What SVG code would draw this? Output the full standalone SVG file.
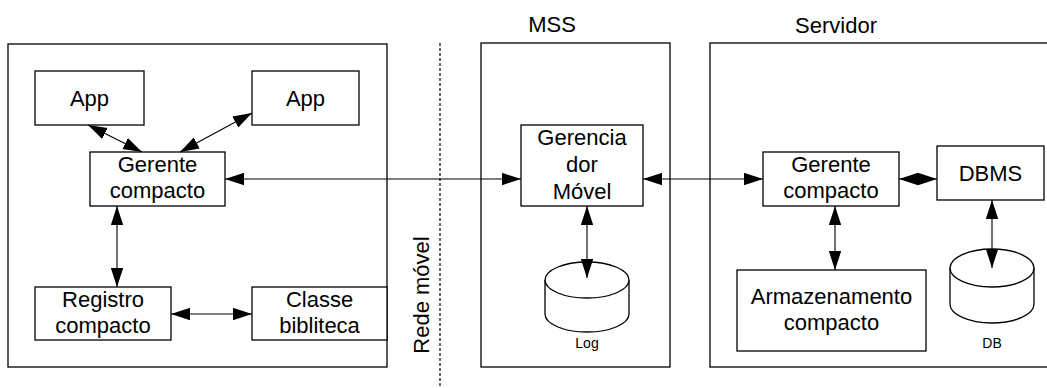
<svg xmlns="http://www.w3.org/2000/svg" width="1047" height="388" viewBox="0 0 1047 388">
  <defs>
    <style>
      .box { fill: #fff; stroke: #000; stroke-width: 1.3; }
      .frame { fill: none; stroke: #000; stroke-width: 1.3; }
      .txt { font-family: "Liberation Sans", Arial, sans-serif; font-size: 22px; fill: #000; text-anchor: middle; }
      .small { font-family: "Liberation Sans", Arial, sans-serif; font-size: 14px; fill: #000; text-anchor: middle; }
      .link { fill: none; stroke: #000; stroke-width: 1.1; marker-start: url(#head); marker-end: url(#head); }
    </style>
    <marker id="head" markerUnits="userSpaceOnUse" markerWidth="19" markerHeight="13" refX="19" refY="6.5" orient="auto-start-reverse" viewBox="0 0 19 13">
      <path d="M0,0.3 L19,6.5 L0,12.7 Z" fill="#000"/>
    </marker>
  </defs>
  <rect width="1047" height="388" fill="#fff"/>

  <!-- mobile client frame -->
  <g id="client">
    <rect class="frame" x="8" y="44" width="379" height="323"/>
  </g>

  <!-- network boundary -->
  <g id="network">
    <line x1="440" y1="43" x2="440" y2="388" stroke="#000" stroke-width="1.2" stroke-dasharray="3,2"/>
    <text class="txt" transform="translate(429,295) rotate(-90)">Rede móvel</text>
  </g>

  <!-- MSS frame -->
  <g id="mss">
    <rect class="frame" x="481" y="43" width="189" height="324"/>
    <text class="txt" x="552" y="32">MSS</text>
  </g>

  <!-- server frame -->
  <g id="servidor">
    <rect class="frame" x="710" y="43" width="350" height="324"/>
    <text class="txt" x="836" y="33">Servidor</text>
  </g>

  <g id="app1">
    <rect class="box" x="35" y="71" width="109" height="54"/>
    <text class="txt" x="89.5" y="106">App</text>
  </g>
  <g id="app2">
    <rect class="box" x="252" y="71" width="107" height="54"/>
    <text class="txt" x="305.5" y="106">App</text>
  </g>
  <g id="gerente-cliente">
    <rect class="box" x="90" y="152" width="135" height="54"/>
    <text class="txt" x="157.5" y="172">Gerente</text>
    <text class="txt" x="157.5" y="198">compacto</text>
  </g>
  <g id="registro">
    <rect class="box" x="35" y="287" width="136" height="53"/>
    <text class="txt" x="103" y="307">Registro</text>
    <text class="txt" x="103" y="333">compacto</text>
  </g>
  <g id="classe">
    <rect class="box" x="252" y="287" width="135" height="53"/>
    <text class="txt" x="319.5" y="307">Classe</text>
    <text class="txt" x="319.5" y="333">bibliteca</text>
  </g>

  <g id="gerenciador">
    <rect class="box" x="521" y="125" width="122" height="81"/>
    <text class="txt" x="582" y="145">Gerencia</text>
    <text class="txt" x="582" y="172">dor</text>
    <text class="txt" x="582" y="199">Móvel</text>
  </g>
  <g id="log">
    <path class="box" d="M545,280 L545,314 A42,18 0 0 0 629,314 L629,280"/>
    <ellipse class="box" cx="587" cy="280" rx="42" ry="18"/>
    <text class="small" x="587" y="348">Log</text>
  </g>

  <g id="gerente-servidor">
    <rect class="box" x="763" y="152" width="136" height="54"/>
    <text class="txt" x="831" y="172">Gerente</text>
    <text class="txt" x="831" y="198">compacto</text>
  </g>
  <g id="dbms">
    <rect class="box" x="937" y="146" width="107" height="54"/>
    <text class="txt" x="990.5" y="181">DBMS</text>
  </g>
  <g id="armazenamento">
    <rect class="box" x="737" y="270" width="189" height="81"/>
    <text class="txt" x="831.5" y="304">Armazenamento</text>
    <text class="txt" x="831.5" y="330">compacto</text>
  </g>
  <g id="db">
    <path class="box" d="M950,268 L950,304 A42,19 0 0 0 1034,304 L1034,268"/>
    <ellipse class="box" cx="992" cy="268" rx="42" ry="19"/>
    <text class="small" x="992" y="348">DB</text>
  </g>

  <!-- connectors -->
  <g id="connectors">
    <line class="link" x1="88" y1="125" x2="142" y2="152"/>
    <line class="link" x1="252" y1="113" x2="180" y2="152"/>
    <line class="link" x1="117" y1="206" x2="117" y2="287"/>
    <line class="link" x1="171" y1="314" x2="252" y2="314"/>
    <line class="link" x1="225" y1="179" x2="521" y2="179"/>
    <line class="link" x1="643" y1="179" x2="763" y2="179"/>
    <line class="link" x1="587" y1="206" x2="587" y2="278"/>
    <line class="link" x1="899" y1="179" x2="937" y2="179"/>
    <line class="link" x1="835" y1="206" x2="835" y2="270"/>
    <line class="link" x1="992" y1="200" x2="992" y2="268"/>
  </g>
</svg>
